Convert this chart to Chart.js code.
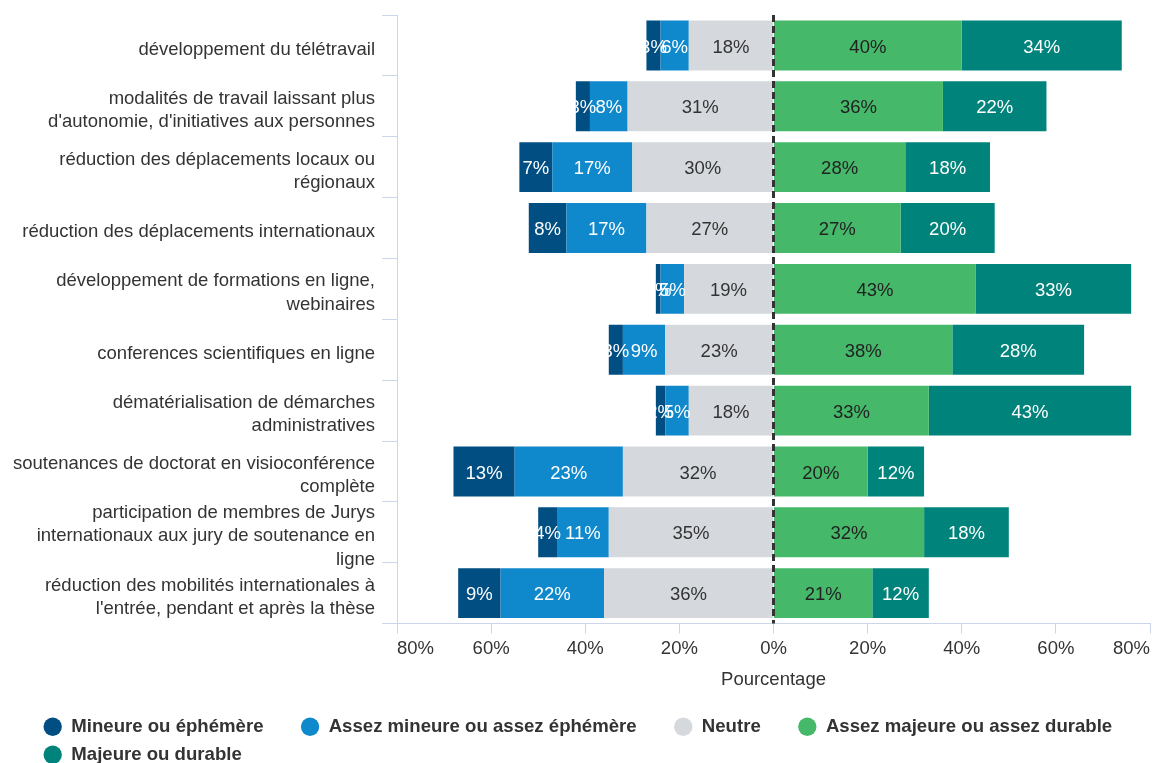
<!DOCTYPE html>
<html lang="fr">
<head>
<meta charset="utf-8">
<script src="https://cdn.jsdelivr.net/npm/chart.js@4"></script>
<style>
  html, body { margin: 0; padding: 0; background: #fff; }
  #wrap { width: 1154px; height: 763px; }
</style>
</head>
<body>
<div id="wrap"><canvas id="chart"></canvas></div>
<script>
const categories = [
  'développement du télétravail',
  ['modalités de travail laissant plus', "d'autonomie, d'initiatives aux personnes"],
  ['réduction des déplacements locaux ou', 'régionaux'],
  'réduction des déplacements internationaux',
  ['développement de formations en ligne,', 'webinaires'],
  'conferences scientifiques en ligne',
  ['dématérialisation de démarches', 'administratives'],
  ['soutenances de doctorat en visioconférence', 'complète'],
  ['participation de membres de Jurys', 'internationaux aux jury de soutenance en', 'ligne'],
  ['réduction des mobilités internationales à', "l'entrée, pendant et après la thèse"]
];
const mineure = [3, 3, 7, 8, 1, 3, 2, 13, 4, 9];
const assezMineure = [6, 8, 17, 17, 5, 9, 5, 23, 11, 22];
const neutre = [18, 31, 30, 27, 19, 23, 18, 32, 35, 36];
const assezMajeure = [40, 36, 28, 27, 43, 38, 33, 20, 32, 21];
const majeure = [34, 22, 18, 20, 33, 28, 43, 12, 18, 12];
const xTicks = [-80, -60, -40, -20, 0, 20, 40, 60, 80];

Chart.defaults.font.family = '"Liberation Sans", Arial, sans-serif';
Chart.defaults.font.size = 18.5;
Chart.defaults.color = '#333333';

const neg = arr => arr.map(v => -v);

// labels in the middle of each segment + dashed line at 0
const barLabels = {
  id: 'barLabels',
  afterLayout(chart) {
    // push the legend rows to the right without moving the y axis
    chart.legend.left = 34;
  },
  afterDatasetsDraw(chart) {
    const ctx = chart.ctx;
    const area = chart.chartArea;
    const x0 = chart.scales.x.getPixelForValue(0);
    ctx.save();
    ctx.strokeStyle = '#333333';
    ctx.lineWidth = 3;
    ctx.setLineDash([7, 4]);
    ctx.beginPath();
    ctx.moveTo(x0, area.top);
    ctx.lineTo(x0, area.bottom);
    ctx.stroke();
    ctx.setLineDash([]);

    ctx.font = '18.5px "Liberation Sans", Arial, sans-serif';
    ctx.textAlign = 'center';
    ctx.textBaseline = 'middle';
    chart.data.datasets.forEach((ds, i) => {
      const meta = chart.getDatasetMeta(i);
      meta.data.forEach((bar, j) => {
        ctx.fillStyle = ds.labelColor;
        ctx.fillText(Math.abs(ds.data[j]) + '%', (bar.x + bar.base) / 2, bar.y + 2);
      });
    });
    ctx.restore();
  }
};

const common = { stack: 'all', barPercentage: 0.82, categoryPercentage: 1.0, borderWidth: 0 };

new Chart(document.getElementById('chart'), {
  type: 'bar',
  data: {
    labels: categories,
    datasets: [
      { ...common, label: 'Mineure ou éphémère', data: neg(mineure), backgroundColor: '#004e82', labelColor: '#ffffff', order: 2 },
      { ...common, label: 'Assez mineure ou assez éphémère', data: neg(assezMineure), backgroundColor: '#1088cc', labelColor: '#ffffff', order: 1 },
      { ...common, label: 'Neutre', data: neg(neutre), backgroundColor: '#d5d9dd', labelColor: '#333333', order: 0 },
      { ...common, label: 'Assez majeure ou assez durable', data: assezMajeure, backgroundColor: '#45b86a', labelColor: '#222222', order: 3 },
      { ...common, label: 'Majeure ou durable', data: majeure, backgroundColor: '#00837a', labelColor: '#ffffff', order: 4 }
    ]
  },
  options: {
    indexAxis: 'y',
    responsive: true,
    maintainAspectRatio: false,
    animation: false,
    layout: { padding: { left: 0, right: 2, top: 15, bottom: -11 } },
    scales: {
      x: {
        stacked: true,
        min: -80,
        max: 80,
        afterBuildTicks: scale => { scale.ticks = xTicks.map(v => ({ value: v })); },
        ticks: {
          align: 'inner',
          padding: 4,
          color: '#333333',
          callback: v => Math.abs(v) + '%'
        },
        grid: { drawOnChartArea: false, drawTicks: true, tickLength: 10, color: '#ccd6eb' },
        border: { display: true, color: '#ccd6eb', width: 1 },
        title: { display: true, text: 'Pourcentage', color: '#333333', padding: { top: 5, bottom: 17 } }
      },
      y: {
        stacked: true,
        afterFit: scale => {
          scale.width = 397;
          scale.paddingTop = 0;
          scale.paddingBottom = 0;
        },
        ticks: { autoSkip: false, padding: 7, labelOffset: 4, color: '#333333', font: { size: 18.5, lineHeight: 1.25 } },
        grid: { drawOnChartArea: false, drawTicks: true, tickLength: 15, color: '#ccd6eb', offset: true },
        border: { display: true, color: '#ccd6eb', width: 1 }
      }
    },
    plugins: {
      tooltip: { enabled: false },
      legend: {
        position: 'bottom',
        align: 'start',
        labels: {
          usePointStyle: true,
          pointStyle: 'circle',
          boxWidth: 19,
          boxHeight: 13,
          padding: 9.4,
          color: '#333333',
          font: { size: 18.6, weight: 'bold' },
          sort: (a, b) => a.datasetIndex - b.datasetIndex,
          generateLabels: chart => {
            const items = Chart.defaults.plugins.legend.labels.generateLabels(chart);
            items.forEach(it => { it.text = it.text + '\u2003\u2002'; });
            return items;
          }
        }
      }
    }
  },
  plugins: [barLabels]
});
</script>
</body>
</html>
